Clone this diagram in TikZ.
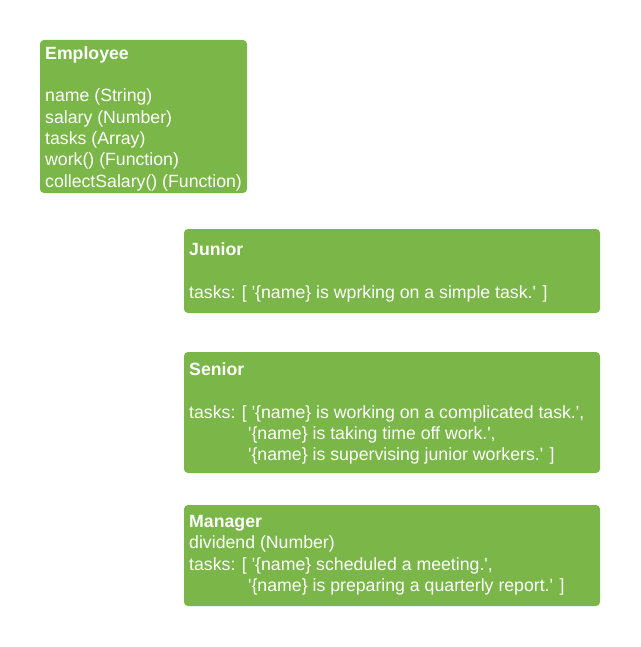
\documentclass[tikz,border=0pt]{standalone}
\usepackage{fontspec}
\newfontfamily\lib{Liberation Sans}
\definecolor{boxgreen}{RGB}{122,182,72}
\tikzset{
  box/.style={fill=boxgreen, draw=none, rounded corners=4pt},
  txt/.style={anchor=base west, inner sep=0pt, text=white, font=\lib\fontsize{17.7}{21.3}\selectfont},
}
\newcommand{\nm}{\textquotesingle\{name\}}
\begin{document}
\begin{tikzpicture}[x=1pt,y=-1pt]
\useasboundingbox (0,0) rectangle (640,647);
% boxes
\path[box] (40,40) rectangle (247,193);
\node[inner sep=0pt] (emp) at (143.5,116.5) {};
\path[box] (184,229) rectangle (600,313);
\node[inner sep=0pt] (jun) at (392,271) {};
\path[box] (184,352) rectangle (600,473);
\node[inner sep=0pt] (sen) at (392,412.5) {};
\path[box] (184,505) rectangle (600,606);
\node[inner sep=0pt] (man) at (392,555.5) {};
% Employee
\node[txt] (e0) at (45,59.5) {\textbf{Employee}};
\node[txt] (e1) at (45,102) {name (String)};
\node[txt] (e2) at (45,123.3) {salary (Number)};
\node[txt] (e3) at (45,144.6) {tasks (Array)};
\node[txt] (e4) at (45,165.9) {work() (Function)};
\node[txt] (e5) at (45,187.2) {collectSalary() (Function)};
% Junior
\node[txt] (j0) at (189,255.5) {\textbf{Junior}};
\node[txt] (j1) at (189,298) {tasks: [ \nm{} is wprking on a simple task.\textquotesingle{} ]};
% Senior
\node[txt] (s0) at (189,375.5) {\textbf{Senior}};
\node[txt] (s1) at (189,418) {tasks: [ \nm{} is working on a complicated task.\textquotesingle,};
\node[txt] (s2) at (248,439.3) {\nm{} is taking time off work.\textquotesingle,};
\node[txt] (s3) at (248,460.6) {\nm{} is supervising junior workers.\textquotesingle{} ]};
% Manager
\node[txt] (m0) at (189,527.5) {\textbf{Manager}};
\node[txt] (m1) at (189,548.8) {dividend (Number)};
\node[txt] (m2) at (189,570.1) {tasks: [ \nm{} scheduled a meeting.\textquotesingle,};
\node[txt] (m3) at (248,591.4) {\nm{} is preparing a quarterly report.\textquotesingle{} ]};
\end{tikzpicture}
\end{document}
